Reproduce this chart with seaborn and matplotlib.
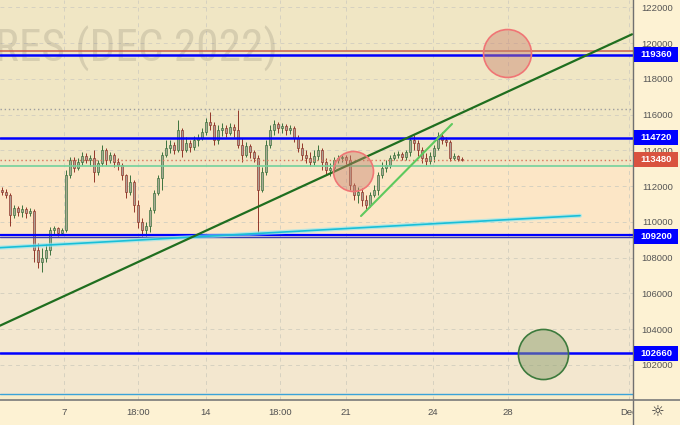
import matplotlib
matplotlib.use('Agg')
import matplotlib.pyplot as plt
import seaborn as sns
import numpy as np
from matplotlib.patches import Rectangle
from matplotlib.lines import Line2D
from matplotlib.font_manager import FontProperties, findfont

# ---------------- data ----------------
opens = [111790,111670,111500,110390,110780,110550,110720,110500,110610,108430,
         107760,107980,108430,109550,109660,109380,109550,112620,113460,113020,
         113350,113690,113460,113570,112790,113290,114020,113460,113740,113350,
         113180,112620,111670,112230,110950,110000,109550,109770,110670,111620,
         112460,113740,114130,114300,114020,115140,114020,114410,114190,114580,
         114690,115030,115590,115420,114580,115140,115250,114970,115310,115140,
         114300,113740,114250,113910,113570,111790,112790,114300,115140,115480,
         115250,115360,115140,115250,114690,114130,113740,113570,113350,113690,
         114020,113350,112900,113020,113460,113570,113630,113460,112060,111500,
         111670,111230,110950,111500,111790,112620,113020,113180,113570,113740,
         113800,113630,113910,114580,114410,114020,113570,113410,113690,114130,
         114800,114580,114470,113570,113690,113520]
highs = [111950,111840,111620,110950,110890,110950,110830,110780,110720,108820,
         108540,108770,109720,109770,109720,109660,112900,113630,113630,113570,
         113910,113850,113740,114020,113460,114300,114130,113910,113850,113570,
         113290,112680,112620,112340,111230,110220,110000,110830,111790,112620,
         113910,114580,114580,114470,115700,115250,114750,114580,114800,114920,
         115250,115810,116150,115590,115420,115530,115420,115530,115480,116260,
         114690,114470,114360,114020,113740,113070,114580,115420,115700,115590,
         115530,115480,115420,115360,114860,114410,114020,113910,114020,114300,
         114130,113570,113290,113630,113740,113740,113740,113740,112180,111950,
         111900,111500,111670,112060,112790,113350,113460,113740,113910,113970,
         113910,114020,114750,114860,114580,114190,113850,113910,114300,115030,
         115030,114750,114580,113850,113740,113630]
lows = [111500,111340,109770,110220,110330,110280,110220,110330,107760,107420,
        107200,107760,108150,109320,109210,109270,109440,112460,112790,112900,
        113180,113290,113130,112230,112620,113130,113180,113290,113070,112900,
        112340,111340,111500,110550,109660,109210,109210,109440,110500,111500,
        111790,113630,113850,113800,113910,113630,113910,113910,114020,114250,
        114580,114860,115140,114300,114360,114800,114750,114860,114750,114130,
        113350,113630,113570,113350,109440,111670,112620,114130,114860,114970,
        114970,114860,114920,114470,113910,113460,113290,113130,113180,113460,
        112900,112620,112570,112790,113290,113350,113240,111790,111230,111060,
        110890,110720,110830,111390,111500,112460,112790,113020,113460,113570,
        113460,113460,113690,114020,113690,113290,113180,113240,113350,114020,
        114360,114250,113410,113460,113410,113410]
closes = [111670,111500,110390,110780,110550,110720,110500,110610,108430,107760,
          107980,108430,109550,109660,109380,109550,112620,113460,113020,113350,
          113690,113460,113570,112790,113290,114020,113460,113740,113350,113180,
          112620,111670,112230,110950,110000,109550,109770,110670,111620,112460,
          113740,114130,114300,114020,115140,114020,114410,114190,114580,114690,
          115030,115590,115420,114580,115140,115250,114970,115310,115140,114300,
          113740,114250,113910,113570,111790,112790,114300,115140,115480,115250,
          115360,115140,115250,114690,114130,113740,113570,113350,113690,114020,
          113350,112900,113020,113460,113570,113630,113460,112060,111500,111670,
          111230,110950,111500,111790,112620,113020,113180,113570,113740,113800,
          113630,113910,114580,114410,114020,113570,113410,113690,114130,114800,
          114580,114470,113570,113690,113520,113480]

date_ticks = [15.5, 34, 51, 69.5, 86, 107.75, 126.5, 156.75]
date_labels = ['7', '18:00', '14', '18:00', '21', '24', '28', 'Dec']
price_ticks = [102000, 104000, 106000, 108000, 110000, 112000,
               114000, 116000, 118000, 120000, 122000]

blue_levels = [119360, 114720, 102660]
support_level = 109200
support_lines = [109250, 109130]
red_level = 119540
green_level = 113120
cyan_level = 100360
prev_high = 116300
last_price = 113480

label_values = [119360, 114720, 113480, 109200, 102660]
label_colors = ['#0000FF', '#0000FF', '#D9533F', '#0000FF', '#0000FF']

dark_trend_x = [-0.5, 157.5]
dark_trend_y = [104200, 120490]
cyan_trend_x = [-0.5, 144.5]
cyan_trend_y = [108560, 110350]
channel_x = [89.75, 112.5]
channel_y = [110330, 115475]

circle_x = [87.75, 126.25, 135.25]
circle_y = [112850, 119445, 102615]
circle_s = [830, 1190, 1300]
circle_face = ['#C7826E70', '#C7826E70', '#8FA07080']
circle_edge = ['#F07575', '#F07575', '#3C7A3C']

watermark = 'RTS FUTURES (DEC 2022)'
watermark_visible = 'RES (DEC 2022)'

y_range = [100043, 122408]
x_range = [-0.5, 157.75]

# ---------------- style ----------------
sns.set_theme(style='white')
plt.rcParams['font.family'] = ['Liberation Sans', 'DejaVu Sans']

W, H = 680, 425
fig = plt.figure(figsize=(6.8, 4.25), dpi=100)
fig.patch.set_facecolor('#FDF2D3')
ax = fig.add_axes([0, 25 / H, 633 / W, 400 / H])
axr = fig.add_axes([633 / W, 0, 47 / W, 1])

ax.set_xlim(*x_range)
ax.set_ylim(*y_range)

# background zones
ax.axhspan(green_level, y_range[1], color='#F0E6C4', lw=0, zorder=0.1)
ax.axhspan(support_level, green_level, color='#FCE6C6', lw=0, zorder=0.1)
ax.axhspan(cyan_level, support_level, color='#F3E7CF', lw=0, zorder=0.1)
ax.axhspan(y_range[0], cyan_level, color='#F8EDCA', lw=0, zorder=0.1)

# grid
ax.set_yticks(price_ticks)
ax.set_xticks(date_ticks)
ax.set_xticklabels(date_labels)
ax.grid(True, color='#D6D1C0', linestyle=(0, (4, 4)), lw=0.7)
ax.set_axisbelow(True)
ax.tick_params(axis='y', left=False, right=False, labelleft=False)
ax.tick_params(axis='x', length=0, pad=5.5, labelsize=6.8, labelcolor='#505050')
for s in ax.spines.values():
    s.set_visible(False)

# watermark: prefer a condensed face, fitted to the visible width
wm_fp = FontProperties(family='Liberation Sans')
for fam, st in [('Liberation Sans Narrow', 'normal'), ('Roboto Condensed', 'normal'),
                ('Noto Sans', 'condensed'), ('Open Sans', 'condensed'),
                ('DejaVu Sans', 'condensed')]:
    fp = FontProperties(family=fam, stretch=st)
    try:
        path = findfont(fp, fallback_to_default=False)
    except Exception:
        continue
    if st == 'normal' or 'ondensed' in path or 'arrow' in path:
        wm_fp = fp
        break
renderer = fig.canvas.get_renderer()
probe = ax.text(0, 0, watermark_visible, fontproperties=wm_fp, fontsize=36)
wpx = probe.get_window_extent(renderer).width
probe.remove()
wm_size = min(36, 36 * 283.0 / wpx)
ax.text(278 / 633, 1 - 62 / 400, watermark, transform=ax.transAxes,
        ha='right', va='baseline', fontproperties=wm_fp, fontsize=wm_size,
        color='#7a7566', alpha=0.22, zorder=0.6, clip_on=True)

# candles
x = np.arange(len(closes))
o = np.array(opens); c = np.array(closes); hi = np.array(highs); lo = np.array(lows)
up = c >= o
wick_col = np.where(up, '#2F6B34', '#8B2A1E')
face_col = np.where(up, '#A8AA96', '#ADA096')
ax.vlines(x, lo, hi, colors=wick_col, lw=0.65, zorder=2)
ax.bar(x, np.maximum(np.abs(c - o), 25), bottom=np.minimum(o, c), width=0.6,
       color=face_col, edgecolor=wick_col, lw=0.45, zorder=3)

# horizontal levels
ax.axhline(red_level, color='#C8604C', lw=1.1, zorder=4)
for lvl in blue_levels:
    ax.axhline(lvl, color='#0000FF', lw=1.8, zorder=4)
ax.axhline(support_lines[0], color='#0000FF', lw=1.6, zorder=4)
ax.axhline(support_lines[1], color='#3A3AB0', lw=1.0, zorder=4)
ax.axhline(green_level, color='#74D19C', lw=1.2, zorder=4)
ax.axhline(cyan_level, color='#3AA3D9', lw=1.0, zorder=4)
ax.axhline(prev_high, color='#9E9E9E', ls=(0, (1, 2)), lw=1.0, zorder=4)
ax.axhline(last_price, color='#D8735A', ls=(0, (1, 2)), lw=1.0, zorder=4)

# trend lines
sns.lineplot(x=cyan_trend_x, y=cyan_trend_y, ax=ax, color='#8BE6F2', lw=3.0, alpha=0.6, zorder=5)
sns.lineplot(x=cyan_trend_x, y=cyan_trend_y, ax=ax, color='#18BFD8', lw=1.2, zorder=5)
sns.lineplot(x=dark_trend_x, y=dark_trend_y, ax=ax, color='#1F6E1F', lw=1.6, zorder=5)
sns.lineplot(x=channel_x, y=channel_y, ax=ax, color='#5EC95E', lw=1.5, zorder=5)

# circles
for cx, cy, cs, fc, ec in zip(circle_x, circle_y, circle_s, circle_face, circle_edge):
    sns.scatterplot(x=[cx], y=[cy], s=cs, ax=ax, facecolor=fc, edgecolor=ec,
                    linewidth=1.2, zorder=6, legend=False)
ax.set_xlim(*x_range)
ax.set_ylim(*y_range)

# right price axis
axr.set_facecolor('#FDF2D3')
axr.set_xlim(0, 1)
ppp = (y_range[1] - y_range[0]) / 400.0
axr.set_ylim(y_range[1] - ppp * 425, y_range[1])
axr.set_yticks(price_ticks)
axr.set_yticklabels([str(v) for v in price_ticks])
axr.set_xticks([])
axr.tick_params(axis='y', length=0, pad=-28.8, labelsize=6.8, labelcolor='#555555',
                left=False, right=False)
for k, s in axr.spines.items():
    s.set_visible(k == 'left')
axr.spines['left'].set_color('#707070')
axr.spines['left'].set_linewidth(1.0)
for val, col in zip(label_values, label_colors):
    axr.add_patch(Rectangle((0.02, val - 7.5 * ppp), 0.937, 15 * ppp,
                            facecolor=col, edgecolor='none', zorder=3))
    axr.text(0.49, val, str(val), color='white', fontweight='bold', fontsize=6.8,
             ha='center', va='center', zorder=4)

fig.add_artist(Line2D([0, 1], [25 / H, 25 / H], color='#7a7a7a', lw=1.2,
                      transform=fig.transFigure, zorder=20))
fig.text(658 / W, 1 - 412 / H, '\u263C', ha='center', va='center', fontsize=11,
         color='#333333', family=['DejaVu Sans'])

fig.savefig('out.png', dpi=100, facecolor=fig.get_facecolor())
